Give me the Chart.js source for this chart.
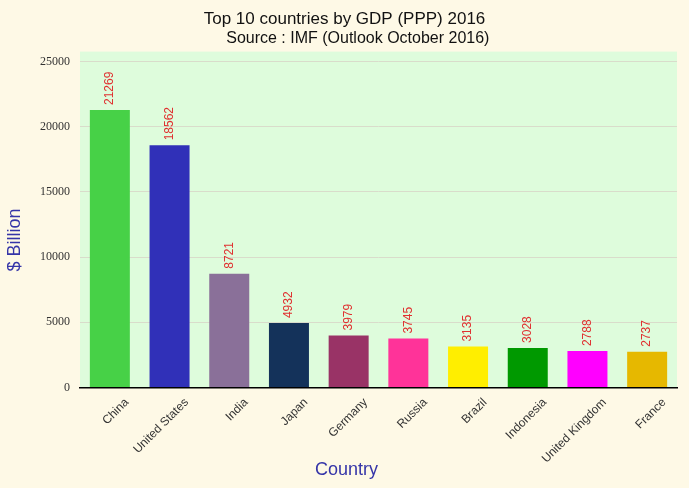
<!DOCTYPE html>
<html>
<head>
<meta charset="utf-8">
<script src="https://cdn.jsdelivr.net/npm/chart.js@4.4.1/dist/chart.umd.min.js"></script>
<style>
  html, body { margin:0; padding:0; background:#fef9e6; }
  #wrap { position:relative; width:689px; height:488px; }
</style>
</head>
<body>
<div id="wrap"><canvas id="grafico-pib"></canvas></div>
<script>
// ---------------- Dados ---------------- //
const paises = ['China','United States','India','Japan','Germany','Russia','Brazil','Indonesia','United Kingdom','France'];
const pib = [21269, 18562, 8721, 4932, 3979, 3745, 3135, 3028, 2788, 2737];
const cores = ['#47d147','#3030b8','#8a7099','#14325a','#993366','#ff3399','#ffee00','#009900','#ff00ff','#e6b800'];
const ticksY = [0, 5000, 10000, 15000, 20000, 25000];
const tituloX = 'Country';
const tituloY = '$ Billion';

// ---------------- Plugins ---------------- //
const fundo = {
  id: 'fundo',
  beforeDraw(chart) {
    const { ctx, chartArea: a } = chart;
    ctx.save();
    ctx.fillStyle = '#fef9e6';
    ctx.fillRect(0, 0, chart.width, chart.height);
    ctx.fillStyle = '#defcdc';
    ctx.fillRect(a.left, a.top, a.right - a.left, a.bottom - a.top);
    ctx.restore();
  }
};

// títulos dos eixos centrados no canvas (não na área do gráfico)
const titulosEixos = {
  id: 'titulosEixos',
  afterDraw(chart) {
    const { ctx } = chart;
    ctx.save();
    ctx.fillStyle = '#3535a8';
    ctx.font = "18px 'Liberation Sans', Arial, sans-serif";
    ctx.textAlign = 'center';
    ctx.textBaseline = 'middle';
    ctx.fillText(tituloX, chart.width / 2 + 2, 470);
    ctx.translate(15, 240);
    ctx.rotate(-Math.PI / 2);
    ctx.fillText(tituloY, 0, 0);
    ctx.restore();
  }
};

const rotulos = {
  id: 'rotulos',
  afterDatasetsDraw(chart) {
    const { ctx } = chart;
    const meta = chart.getDatasetMeta(0);
    ctx.save();
    ctx.fillStyle = '#e03030';
    ctx.font = "12px 'Liberation Sans', Arial, sans-serif";
    ctx.textAlign = 'left';
    ctx.textBaseline = 'middle';
    meta.data.forEach((bar, i) => {
      ctx.save();
      ctx.translate(bar.x, bar.y - 5);
      ctx.rotate(-Math.PI / 2);
      ctx.fillText(String(pib[i]), 0, 0);
      ctx.restore();
    });
    ctx.restore();
  }
};

// ---------------- Gráfico ---------------- //
Chart.defaults.font.family = "'Liberation Sans', Arial, sans-serif";

new Chart(document.getElementById('grafico-pib'), {
  type: 'bar',
  data: {
    labels: paises,
    datasets: [{
      data: pib,
      backgroundColor: cores,
      barPercentage: 0.67,
      categoryPercentage: 1
    }]
  },
  options: {
    responsive: true,
    maintainAspectRatio: false,
    animation: false,
    layout: { padding: { left: 12, right: 12, top: 5, bottom: 14 } },
    plugins: {
      legend: { display: false },
      tooltip: { enabled: false },
      title: {
        display: true,
        text: 'Top 10 countries by GDP (PPP) 2016',
        color: '#111',
        font: { size: 17, weight: 'normal' },
        padding: { top: 4, bottom: 0 }
      },
      subtitle: {
        display: true,
        text: '      Source : IMF (Outlook October 2016)',
        color: '#111',
        font: { size: 16, weight: 'normal' },
        padding: { bottom: 3 }
      }
    },
    scales: {
      x: {
        grid: { display: false, drawTicks: false },
        border: { display: true, color: '#000', width: 1.5 },
        ticks: { color: '#333', font: { size: 12 }, maxRotation: 45, minRotation: 45, padding: 8, labelOffset: 17 }
      },
      y: {
        min: 0,
        max: 25750,
        grid: { color: '#d9dccb', drawTicks: false },
        border: { display: false },
        afterBuildTicks(scale) { scale.ticks = ticksY.map(v => ({ value: v })); },
        afterFit(scale) { scale.width = 68; },
        ticks: {
          color: '#333',
          font: { family: "'Liberation Serif', 'Times New Roman', serif", size: 12 },
          padding: 10,
          callback: v => String(v)
        }
      }
    }
  },
  plugins: [fundo, rotulos, titulosEixos]
});
</script>
</body>
</html>
